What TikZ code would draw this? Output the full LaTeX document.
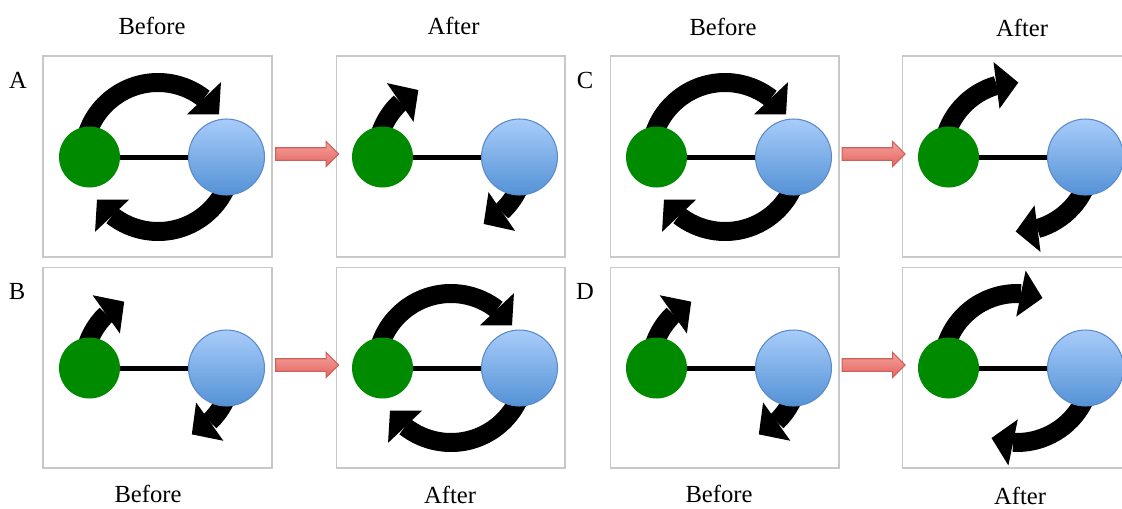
\documentclass[tikz,border=0pt]{standalone}
\usepackage{fontspec}
\setmainfont{Liberation Serif}
\definecolor{leaf_c}{RGB}{0,138,0}
\definecolor{sky_top}{RGB}{168,204,250}
\definecolor{sky_bot}{RGB}{84,146,214}
\definecolor{sky_rim}{RGB}{90,138,202}
\definecolor{red_top}{RGB}{246,162,156}
\definecolor{red_bot}{RGB}{226,100,95}
\definecolor{red_rim}{RGB}{205,95,90}
\definecolor{box_c}{RGB}{200,200,200}
\usetikzlibrary{arrows.meta,
                bending,
                calc,
                positioning,
                shapes.arrows}

\begin{document}
\begin{tikzpicture}[
			x=0.02cm, y=-0.02cm,
			panel/.style = {draw=box_c, line width=0.6pt, minimum width=4.58cm, minimum height=4.02cm},
			gdot/.style = {circle, fill=leaf_c, minimum size=1.22cm, inner sep=0pt},
			bdot/.style = {circle, draw=sky_rim, line width=0.6pt, top color=sky_top, bottom color=sky_bot, minimum size=1.52cm, inner sep=0pt},
			bond/.style = {line width=0.1cm},
			spin/.style = {line width=0.38cm, -{Triangle[width=0.94cm, length=0.44cm, line width=0pt]}},
			push/.style = {single arrow, draw=red_rim, line width=0.6pt, top color=red_top, bottom color=red_bot,
			               minimum height=1.26cm, minimum width=0.48cm, inner xsep=0pt, inner ysep=0.115cm,
			               single arrow head extend=0.125cm},
			lbl/.style = {anchor=base, font=\fontsize{14pt}{16pt}\selectfont},
			]
			\useasboundingbox (0,0) rectangle (1122,508);
			\clip (0,0) rectangle (1122,508);
			% panels
			\foreach \n/\x/\y/\ta/\ba in {A1/43/156.5/35/-145, A2/336/156.5/116/-64,
			                              C1/610/156.5/35/-145, C2/902/156.5/89/-91,
			                              B1/43/367.5/117/-63, B2/336/367.5/35/-145,
			                              D1/610/367.5/117/-63, D2/902/367.5/70/-110}{
				\node[panel] (\n) at (\x+114.5,\y) {};
				\coordinate (m\n) at (\x+115,\y+0.5);
				\draw[spin] (m\n) ++(170:1.49cm) arc[start angle=170, end angle=\ta, radius=1.49cm];
				\draw[spin] (m\n) ++(-10:1.49cm) arc[start angle=-10, end angle=\ba, radius=1.49cm];
				\node[gdot] (g\n) at (\x+46.5,\y+0.5) {};
				\node[bdot] (b\n) at (\x+183.5,\y+0.5) {};
				\draw[bond] (g\n) -- (b\n);
			}
			% before -> after
			\foreach \p in {A,B,C,D}
				\node[push] (r\p) at ($(\p1.east)!0.5!(\p2.west)+(0,-2.5)$) {};
			% labels
			\node[lbl] (t1) at (152,34) {Before};
			\node[lbl] (t2) at (453.5,34.5) {After};
			\node[lbl] (t3) at (723,35) {Before};
			\node[lbl] (t4) at (1022,36) {After};
			\node[lbl] (u1) at (148,502) {Before};
			\node[lbl] (u2) at (450,503.5) {After};
			\node[lbl] (u3) at (719,502) {Before};
			\node[lbl] (u4) at (1020,504.5) {After};
			\node[lbl] (kA) at (18,88) {A};
			\node[lbl] (kB) at (17,299) {B};
			\node[lbl] (kC) at (585,88) {C};
			\node[lbl] (kD) at (585,299) {D};
		\end{tikzpicture}
\end{document}
